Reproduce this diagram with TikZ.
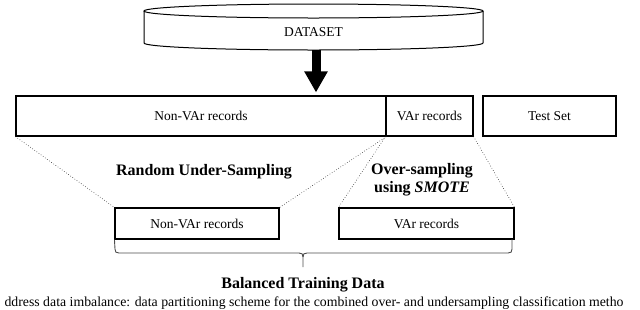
\documentclass[tikz,border=0pt]{standalone}
\usepackage{fontspec}
\setmainfont{Liberation Serif}
\usetikzlibrary{arrows.meta}

\begin{document}
\begin{tikzpicture}[x=1pt,y=-1pt,
        recbox/.style={draw, line width=1.1pt, inner sep=0pt, font=\fontsize{13.5}{16}\selectfont},
        split/.style={dotted, line width=0.6pt, black!85},
        lbl/.style={font=\fontsize{16}{18}\selectfont\bfseries, align=center}]
        \useasboundingbox (0,0) rectangle (640,309);
        \draw[line width=1pt] (313.5,11) ellipse [x radius=169.5, y radius=7];
        \draw[line width=1pt] (144,11) -- (144,43) .. controls (144,46.9) and (219.9,50) .. (313.5,50)
            .. controls (407.1,50) and (483,46.9) .. (483,43) -- (483,11);
        \node[font=\fontsize{13.5}{16}\selectfont] (dataset) at (313.5,32) {DATASET};
        \node[recbox, minimum width=370, minimum height=40] (nonvar) at (201,116) {Non-VAr records};
        \node[recbox, minimum width=87, minimum height=40] (var) at (429.5,116) {VAr records};
        \node[recbox, minimum width=133, minimum height=40] (test) at (549.5,116) {Test Set};
        \node[recbox, minimum width=164, minimum height=31] (nonvarbal) at (197,223.5) {Non-VAr records};
        \node[recbox, minimum width=175, minimum height=31] (varbal) at (426.5,223.5) {VAr records};
        \coordinate (drop) at (316,50);
        \draw[line width=9pt, shorten >=3pt, -{Triangle[length=21pt,width=22pt]}] (drop) -- (drop |- nonvar.north);
        \draw[split] (nonvar.south west) -- (nonvarbal.north west);
        \draw[split] (nonvar.south east) -- (nonvarbal.north east);
        \draw[split] (var.south west) -- (varbal.north west);
        \draw[split] (var.south east) -- (varbal.north east);
        \node[lbl] (under) at (204,172) {Random Under-Sampling};
        \node[lbl] (over) at (422,180) {Over-sampling\\using \textit{SMOTE}};
        \coordinate (bracetip) at (303,267);
        \draw[line width=0.9pt, black!70] (nonvarbal.south west) -- (115,249) .. controls (115,252) and (116,253) .. (119,253)
            -- (299,253) .. controls (302,253) and (303,254) .. (303,257) -- (bracetip);
        \draw[line width=0.9pt, black!70] (303,257) .. controls (303,254) and (304,253) .. (307,253)
            -- (508,253) .. controls (511,253) and (512,252) .. (512,249) -- (512,239);
        \node[lbl, anchor=base] (balanced) at (303,288) {Balanced Training Data};
        \node[anchor=base west, font=\fontsize{13.8}{16}\selectfont] (caption) at (1,306) {ddress data imbalance: data partitioning scheme for the combined over- and undersampling classification metho};
    \end{tikzpicture}
\end{document}
